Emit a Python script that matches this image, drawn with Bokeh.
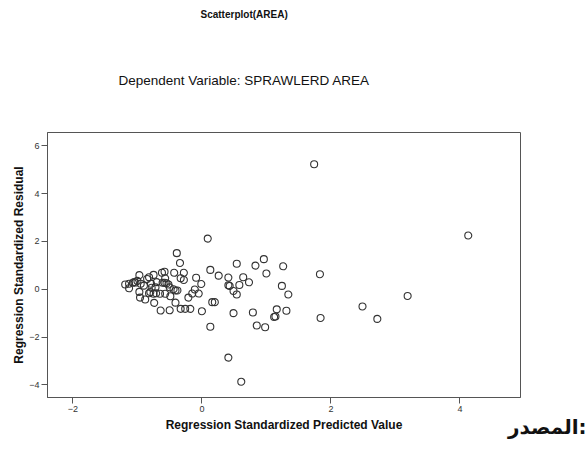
from bokeh.plotting import figure
from bokeh.models import Range1d, FixedTicker, Title
from bokeh.embed import file_html
from bokeh.resources import INLINE

# Regression standardized predicted values (x) and residuals (y)
pred = [1.74, 4.13, 0.09, 3.19, 2.49, 2.72, 1.83, 1.84, 0.41, 0.61,
        0.13, 0.85, 0.98, 0.96, 0.83, 0.54, 1.26, 1.00, 0.13, 0.26,
        0.41, 0.64, 0.41, 0.43, 0.58, 0.73, 0.49, 0.54, 1.24, 1.34,
        0.16, 0.20, 0.49, 0.79, 1.16, 1.14, 1.12, 1.31, 0.00, -0.09,
        -0.01, -0.11, -0.15, -0.05, -0.21, -0.28, -0.28, -0.34, -0.33, -0.26,
        -0.18, -0.39, -0.33, -0.43, -0.44, -0.41, -0.38, -0.41, -0.49, -0.50,
        -0.64, -0.74, -0.65, -0.50, -0.58, -0.62, -0.57, -0.61, -0.58, -0.55,
        -0.75, -0.82, -0.85, -0.97, -0.97, -0.96, -0.88, -1.03, -1.13, -1.19,
        -1.07, -1.00, -0.79, -0.78, -0.80, -0.72, -0.71, -0.75, -0.90, -0.95,
        -0.82, -0.57, -0.70, -0.52, -1.13, -1.05]
resid = [5.23, 2.25, 2.12, -0.28, -0.72, -1.24, 0.63, -1.20, -2.86, -3.87,
         -1.57, -1.52, -1.59, 1.26, 0.99, 1.07, 0.96, 0.66, 0.81, 0.57,
         0.49, 0.50, 0.17, 0.14, 0.18, 0.29, -0.07, -0.22, 0.14, -0.22,
         -0.54, -0.54, -1.00, -0.97, -0.84, -1.14, -1.16, -0.90, -0.92, 0.48,
         0.22, -0.01, -0.18, -0.18, -0.35, 0.69, 0.39, 1.10, -0.82, -0.82,
         -0.82, 1.51, 0.46, 0.69, 0.00, -0.05, -0.05, -0.56, -0.29, -0.88,
         -0.89, -0.57, -0.19, 0.08, 0.73, 0.69, 0.46, 0.27, 0.27, 0.25,
         0.60, 0.50, 0.43, 0.59, -0.11, -0.35, -0.43, 0.28, 0.04, 0.20,
         0.27, 0.35, 0.23, 0.06, -0.12, 0.08, -0.17, -0.19, 0.15, 0.23,
         -0.17, -0.19, 0.30, 0.20, 0.23, 0.30]

x_ticks = [-2, 0, 2, 4]
y_ticks = [-4, -2, 0, 2, 4, 6]

chart_title = "Scatterplot(AREA)"
sub_title = "Dependent Variable: SPRAWLERD AREA"
x_label = "Regression Standardized Predicted Value"
y_label = "Regression Standardized Residual"
source_note = "المصدر:"

FONT = "Liberation Sans"

p = figure(width=587, height=449, output_backend="svg", toolbar_location=None,
           x_range=Range1d(-2.395, 4.94), y_range=Range1d(-4.53, 6.56),
           min_border_left=47, min_border_right=67, min_border_top=132,
           min_border_bottom=52)
p.background_fill_color = "white"
p.border_fill_color = "white"
p.outline_line_color = "#555555"
p.outline_line_width = 1
p.grid.visible = False

for ax in (p.xaxis[0], p.yaxis[0]):
    ax.axis_line_color = "#555555"
    ax.major_tick_line_color = "#555555"
    ax.major_tick_out = 6
    ax.major_tick_in = 0
    ax.minor_tick_line_color = None
    ax.major_label_text_font = FONT
    ax.major_label_text_font_size = "9px"
    ax.major_label_text_color = "#333333"
    ax.major_label_standoff = 2
    ax.axis_label_text_font = FONT
    ax.axis_label_text_font_size = "12px"
    ax.axis_label_text_font_style = "bold"
    ax.axis_label_text_color = "#111111"
p.xaxis[0].axis_label_standoff = 3
p.yaxis[0].axis_label_standoff = 0
p.xaxis[0].ticker = FixedTicker(ticks=x_ticks)
p.yaxis[0].ticker = FixedTicker(ticks=y_ticks)
p.xaxis[0].axis_label = x_label
p.yaxis[0].axis_label = y_label

p.add_layout(Title(text=sub_title, align="left", offset=71, standoff=90,
                   text_font=FONT, text_font_size="13.5px", text_font_style="normal",
                   text_color="#111111"), "above")
p.add_layout(Title(text=chart_title, align="left", offset=153, standoff=12,
                   text_font=FONT, text_font_size="10px", text_font_style="bold",
                   text_color="#111111"), "above")

# source note: a title below the x axis, pulled up beside the axis label
p.add_layout(Title(text=source_note, align="right", offset=-66, standoff=-40,
                   vertical_align="top", text_font="DejaVu Sans",
                   text_font_size="20px", text_font_style="bold",
                   text_color="#111111"), "below")

p.scatter(pred, resid, marker="circle", size=7, fill_color=None,
          line_color="#333333", line_width=1.1)

open("out.html", "w").write(file_html(p, INLINE))
